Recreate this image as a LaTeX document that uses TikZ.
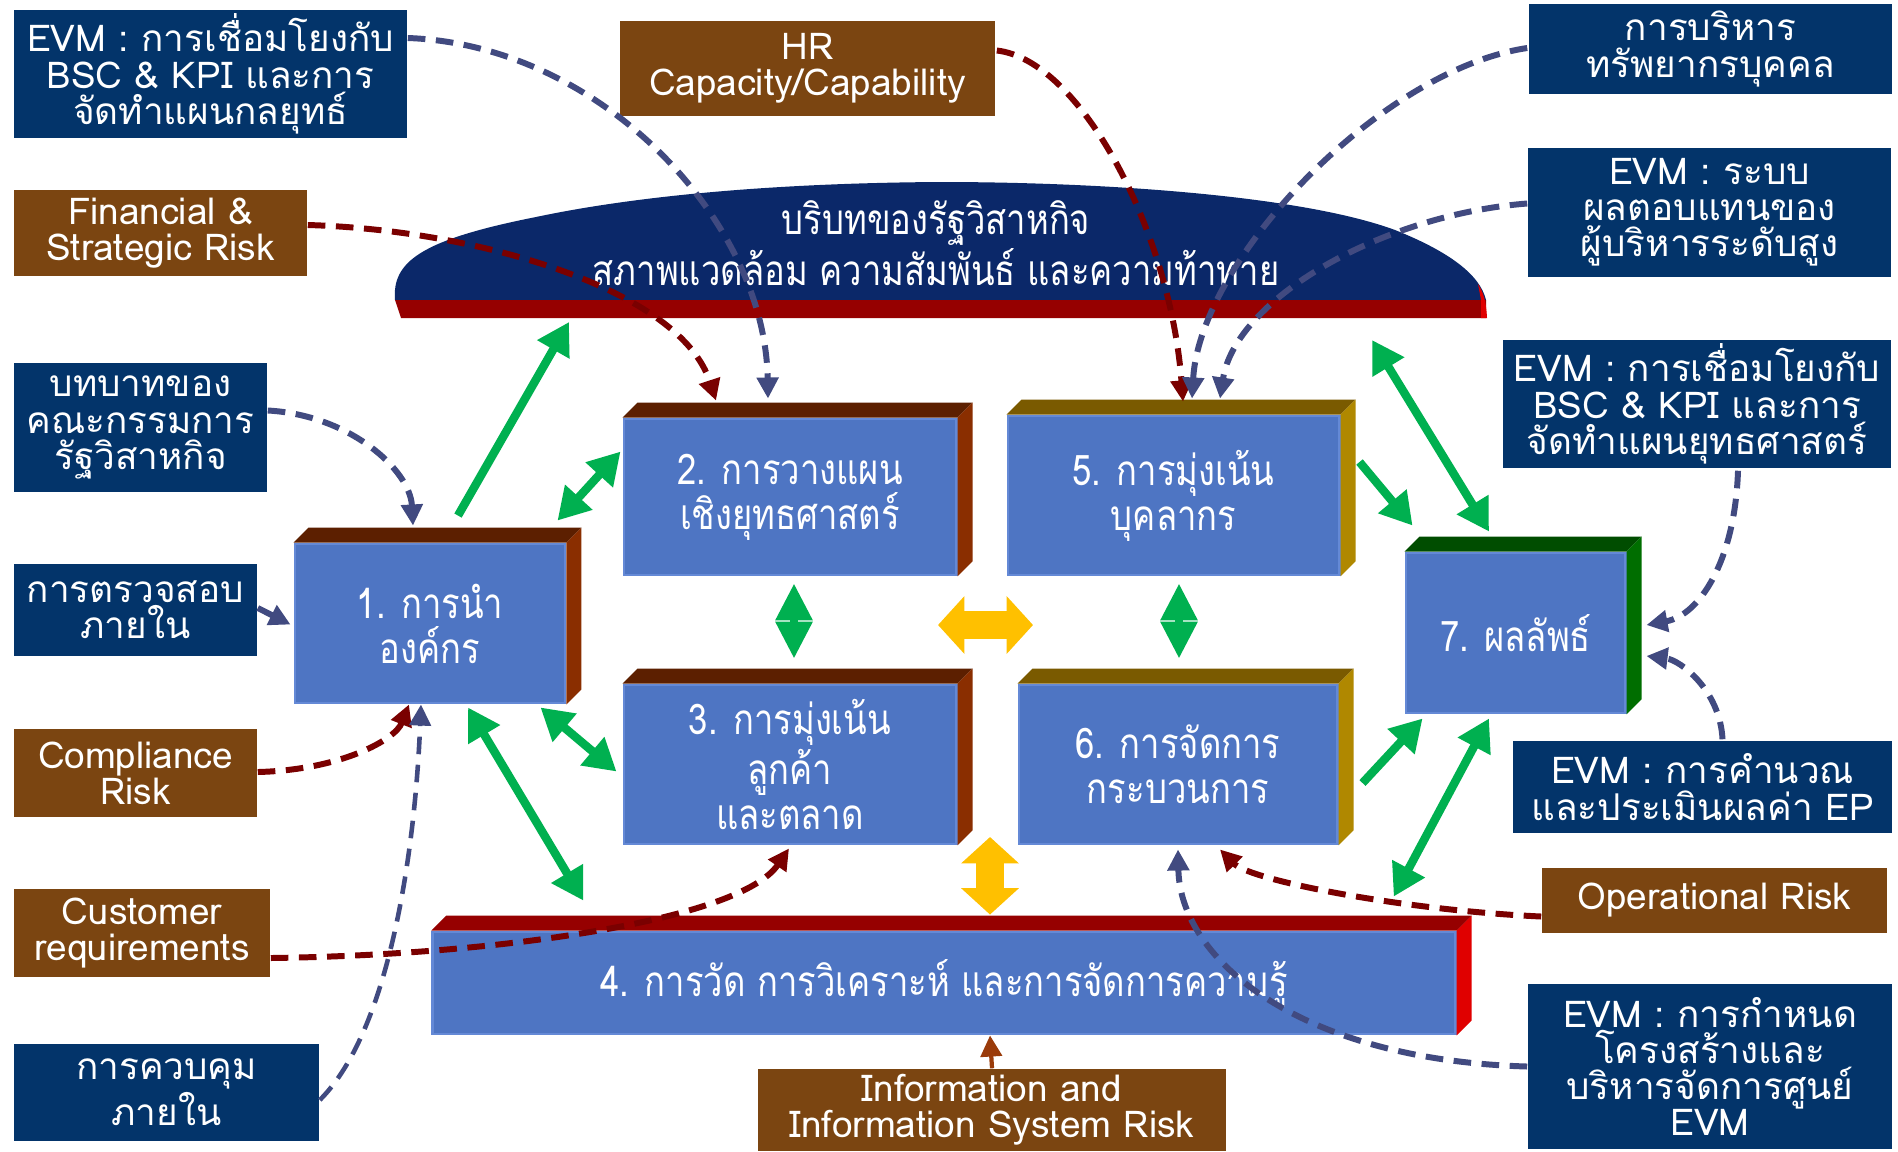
\documentclass[tikz,border=0pt]{standalone}
\usepackage{fontspec}
\setmainfont[Script=Thai]{Loma}
\newfontfamily\narrowface[Script=Thai, FakeStretch=0.82]{Loma}
\usepackage{tikz}
\usetikzlibrary{arrows.meta, calc}
\definecolor{navybg}{HTML}{03346A}
\definecolor{riskbg}{HTML}{7B4511}
\definecolor{boxblue}{HTML}{4E75C3}
\definecolor{boxedge}{HTML}{6489D6}
\definecolor{cloudnavy}{HTML}{0B2869}
\definecolor{bandred}{HTML}{960000}
\definecolor{sidered}{HTML}{E00000}
\definecolor{topbrown}{HTML}{5C1F00}
\definecolor{sidebrown}{HTML}{8A2E00}
\definecolor{topolive}{HTML}{7A5A00}
\definecolor{sidegold}{HTML}{B08800}
\definecolor{topgreen}{HTML}{004D00}
\definecolor{sidegreen}{HTML}{006E00}
\definecolor{arrowgreen}{HTML}{00B050}
\definecolor{arrowyellow}{HTML}{FFC000}
\definecolor{dashnavy}{HTML}{414A80}
\definecolor{dashred}{HTML}{7A0000}
\definecolor{dashrust}{HTML}{9A3B0A}
\newcommand{\tagfont}{\fontsize{10.5}{10.3}\selectfont}
\newcommand{\boxfont}{\narrowface\fontsize{12}{12.8}\selectfont}
% top face and side face of a 3d box
\newcommand{\boxdepth}[3]{
    \fill[#2] (#1.north west) -- ++(15,-15) -- ([shift={(15,-15)}]#1.north east) -- (#1.north east) -- cycle;
    \fill[#3] (#1.north east) -- ++(15,-15) -- ([shift={(15,-15)}]#1.south east) -- (#1.south east) -- cycle;
}
\tikzset{
    navybox/.style={
        rectangle,
        fill=navybg,
        text=white,
        align=center,
        inner sep=1pt,
        font=\tagfont
    },
    riskbox/.style={
        navybox,
        fill=riskbg
    },
    mainbox/.style={
        rectangle,
        fill=boxblue,
        draw=boxedge,
        line width=0.8pt,
        text=white,
        align=center,
        font=\boxfont
    },
    garrow/.style={
        -{Triangle[length=9pt,width=10pt]},
        line width=2.4pt,
        draw=arrowgreen
    },
    gboth/.style={
        garrow,
        {Triangle[length=9pt,width=10pt]}-{Triangle[length=9pt,width=10pt]}
    },
    gshort/.style={
        garrow,
        {Triangle[length=10.5pt,width=10pt]}-{Triangle[length=10.5pt,width=10pt]}
    },
    yboth/.style={
        {Triangle[length=7.5pt,width=16pt]}-{Triangle[length=7.5pt,width=16pt]},
        line width=8pt,
        draw=arrowyellow
    },
    navydash/.style={
        -{Triangle[length=6pt,width=6pt]},
        line width=1.7pt,
        dash pattern=on 5pt off 3pt,
        draw=dashnavy
    },
    reddash/.style={
        navydash,
        draw=dashred
    }
}

\begin{document}
\begin{tikzpicture}[x=0.01cm, y=-0.01cm]
    \fill[white] (0,0) rectangle (1898,1151);
    \useasboundingbox (0,0) rectangle (1898,1151);

    % context dome
    \fill[cloudnavy] (395,300) .. controls (392,262) and (420,240) .. (536,217)
        .. controls (640,195) and (780,183) .. (940,182)
        .. controls (1100,182) and (1300,195) .. (1395,230)
        .. controls (1450,252) and (1480,275) .. (1486,300) -- cycle;
    \fill[bandred] (395,300) -- (1486,300) -- (1486,318) -- (401,318) -- cycle;
    \fill[sidered] (1478,284) .. controls (1483,292) and (1486,300) .. (1487,318) -- (1481,318) -- (1481,300) -- cycle;
    \node[text=white, align=center, font=\narrowface\fontsize{12}{14.5}\selectfont] (ctx) at (936,243)
        {บริบทของรัฐวิสาหกิจ\\สภาพแวดล้อม ความสัมพันธ์ และความท้าทาย};
    \coordinate (ctxl) at (569,322);
    \coordinate (ctxr) at (1372,340);

    % main boxes
    \node[mainbox, minimum width=2.70cm, minimum height=1.59cm] (b1) at (430,623.5) {1. การนำ\\องค์กร};
    \node[mainbox, minimum width=3.32cm, minimum height=1.56cm] (b2) at (790,497) {2. การวางแผน\\เชิงยุทธศาสตร์};
    \node[mainbox, minimum width=3.32cm, minimum height=1.59cm] (b3) at (790,764.5) {3. การมุ่งเน้น\\ลูกค้า\\และตลาด};
    \node[mainbox, minimum width=10.22cm, minimum height=1.02cm] (b4) at (944,983) {4. การวัด การวิเคราะห์ และการจัดการความรู้};
    \node[mainbox, minimum width=3.31cm, minimum height=1.59cm] (b5) at (1173.5,495.5) {5. การมุ่งเน้น\\บุคลากร};
    \node[mainbox, minimum width=3.18cm, minimum height=1.59cm] (b6) at (1178,764.5) {6. การจัดการ\\กระบวนการ};
    \node[mainbox, minimum width=2.19cm, minimum height=1.60cm] (b7) at (1515.5,633) {7. ผลลัพธ์};
    \boxdepth{b1}{topbrown}{sidebrown}
    \boxdepth{b2}{topbrown}{sidebrown}
    \boxdepth{b3}{topbrown}{sidebrown}
    \boxdepth{b4}{bandred}{sidered}
    \boxdepth{b5}{topolive}{sidegold}
    \boxdepth{b6}{topolive}{sidegold}
    \boxdepth{b7}{topgreen}{sidegreen}

    % side labels
    \node[navybox, minimum width=3.93cm, minimum height=1.28cm] (evmL) at (210.5,74) {EVM : การเชื่อมโยงกับ\\BSC \& KPI และการ\\จัดทำแผนกลยุทธ์};
    \node[riskbox, minimum width=2.93cm, minimum height=0.86cm] (fin) at (160.5,233) {Financial \&\\Strategic Risk};
    \node[riskbox, minimum width=3.75cm, minimum height=0.95cm] (hr) at (807.5,68.5) {HR\\Capacity/Capability};
    \node[navybox, minimum width=3.63cm, minimum height=0.90cm] (hrm) at (1710.5,49) {การบริหาร\\ทรัพยากรบุคคล};
    \node[navybox, minimum width=3.63cm, minimum height=1.29cm] (evmPay) at (1709.5,212.5) {EVM : ระบบ\\ผลตอบแทนของ\\ผู้บริหารระดับสูง};
    \node[navybox, minimum width=3.88cm, minimum height=1.28cm] (evmR) at (1697,404) {EVM : การเชื่อมโยงกับ\\BSC \& KPI และการ\\จัดทำแผนยุทธศาสตร์};
    \node[navybox, minimum width=2.53cm, minimum height=1.29cm] (board) at (140.5,427.5) {บทบาทของ\\คณะกรรมการ\\รัฐวิสาหกิจ};
    \node[navybox, minimum width=2.43cm, minimum height=0.92cm] (audit) at (135.5,610) {การตรวจสอบ\\ภายใน};
    \node[riskbox, minimum width=2.43cm, minimum height=0.88cm] (comp) at (135.5,773) {Compliance\\Risk};
    \node[riskbox, minimum width=2.56cm, minimum height=0.88cm] (cust) at (142,933) {Customer\\requirements};
    \node[navybox, minimum width=3.05cm, minimum height=0.97cm] (ctrl) at (166.5,1092.5) {การควบคุม\\ภายใน};
    \node[riskbox, minimum width=4.68cm, minimum height=0.82cm] (info) at (992,1110) {Information and\\Information System Risk};
    \node[riskbox, minimum width=3.45cm, minimum height=0.65cm] (opr) at (1714.5,900.5) {Operational Risk};
    \node[navybox, minimum width=3.64cm, minimum height=1.65cm] (evmStr) at (1710,1066.5) {EVM : การกำหนด\\โครงสร้างและ\\บริหารจัดการศูนย์\\EVM};
    \node[navybox, minimum width=3.79cm, minimum height=0.92cm] (evmEP) at (1702.5,787) {EVM : การคำนวณ\\และประเมินผลค่า EP};

    % green links
    \draw[garrow] ([shift={(28,-27)}]b1.north) -- (ctxl);
    \draw[gboth] ([shift={(-9,-22)}]b1.north east) -- ([shift={(-2,34)}]b2.north west);
    \draw[gboth] ([shift={(-26,3)}]b1.south east) -- ([shift={(-6,7)}]b3.west);
    \draw[gboth] ([shift={(38,3)}]b1.south) -- ([shift={(152,-30)}]b4.north west);
    \draw[gshort] ([shift={(4,7)}]b2.south) -- ([shift={(4,-25)}]b3.north);
    \draw[gshort] ([shift={(5.5,7)}]b5.south) -- ([shift={(1,-25)}]b6.north);
    \draw[garrow] ([shift={(19,-33.5)}]b5.east) -- ([shift={(8,-26)}]b7.north west);
    \draw[gboth] ([shift={(-26.5,-20)}]b7.north) -- (ctxr);
    \draw[garrow] ([shift={(24,18.5)}]b6.east) -- ([shift={(18,4)}]b7.south west);
    \draw[gboth] ([shift={(-26.5,4)}]b7.south) -- ([shift={(-63,-34)}]b4.north east);

    % yellow links
    \coordinate (yl) at (938,625);
    \coordinate (yr) at (1033,625);
    \coordinate (yt) at (990,837);
    \draw[yboth] (yl) -- (yr);
    \draw[yboth] (yt) -- ([shift={(46,-16)}]b4.north);

    % dashed influences
    \draw[navydash] ([shift={(0,-36)}]evmL.east) .. controls (600,45) and (765,220) .. ([shift={(-22,-19)}]b2.north);
    \draw[reddash] ([shift={(0,-8)}]fin.east) .. controls (480,230) and (680,290) .. ([shift={(-74,-17)}]b2.north);
    \draw[reddash] ([shift={(1,-18)}]hr.east) .. controls (1080,60) and (1170,230) .. ([shift={(9.5,-13)}]b5.north);
    \draw[navydash] ([shift={(-1,-1)}]hrm.west) .. controls (1380,70) and (1200,260) .. ([shift={(18.5,-16)}]b5.north);
    \draw[navydash] ([shift={(0,-9)}]evmPay.west) .. controls (1380,215) and (1235,300) .. ([shift={(46.5,-16)}]b5.north);
    \draw[navydash] ([shift={(0,-17)}]board.east) .. controls (350,415) and (410,470) .. ([shift={(-17,-17)}]b1.north);
    \draw[navydash] ([shift={(0,-2)}]audit.east) -- ([shift={(-3,1)}]b1.west);
    \draw[reddash] ([shift={(0,-1)}]comp.east) .. controls (340,770) and (395,740) .. ([shift={(-21,0)}]b1.south);
    \draw[navydash, line width=1.3pt] ([shift={(0,7.5)}]ctrl.east) .. controls (390,1030) and (415,850) .. ([shift={(-9,0)}]b1.south);
    \draw[reddash] ([shift={(0,25)}]cust.east) .. controls (500,955) and (740,920) .. ([shift={(-1,3)}]b3.south);
    \draw[reddash, draw=dashrust, line width=1.2pt, dash pattern=on 4pt off 2pt] (info.north) -- ([shift={(46,0)}]b4.south);
    \draw[reddash] ([shift={(0,16)}]opr.west) .. controls (1400,910) and (1250,880) .. ([shift={(42,4)}]b6.south);
    \draw[navydash] (evmStr.west) .. controls (1300,1060) and (1180,960) .. ([shift={(0,4)}]b6.south);
    \draw[navydash] ([shift={(41,2)}]evmR.south) .. controls (1735,560) and (1700,615) .. ([shift={(20,-8)}]b7.east);
    \draw[navydash] ([shift={(20,-1)}]evmEP.north) .. controls (1720,690) and (1680,660) .. ([shift={(20,23)}]b7.east);
\end{tikzpicture}
\end{document}
